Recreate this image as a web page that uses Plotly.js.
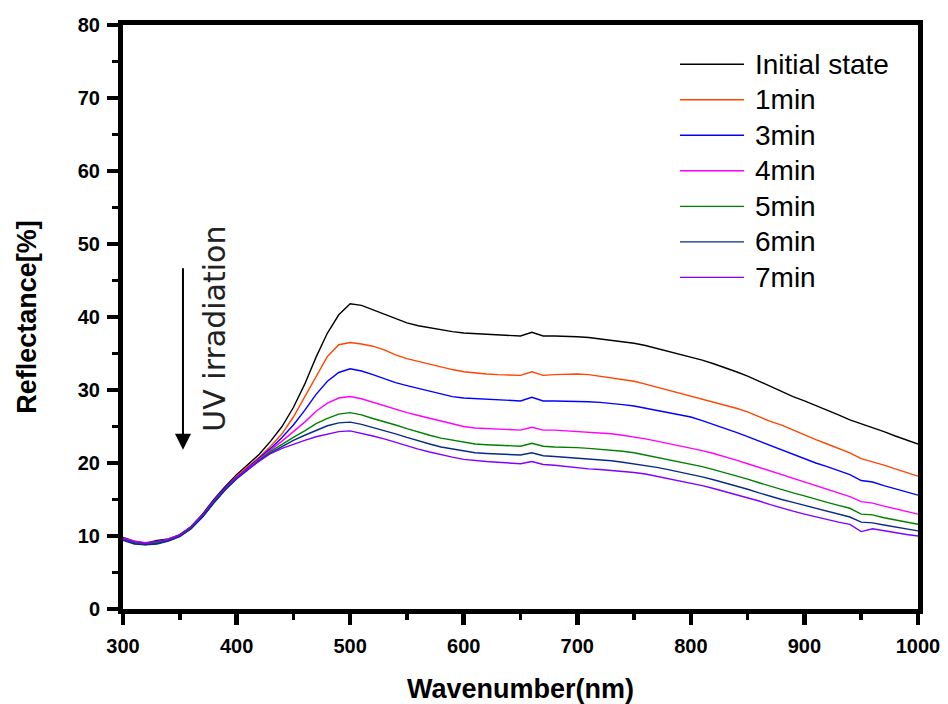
<!DOCTYPE html>
<html>
<head>
<meta charset="utf-8">
<script src="https://cdn.plot.ly/plotly-3.0.1.min.js"></script>
<style>html,body{margin:0;padding:0;background:#fff;}#chart{width:948px;height:704px;}</style>
</head>
<body>
<div id="chart"></div>
<script>
var wavelength = [300,310,320,330,340,350,360,370,380,390,400,410,420,430,440,450,460,470,480,490,500,510,520,530,540,550,560,570,580,590,600,610,620,630,640,650,660,670,680,690,700,710,720,730,740,750,760,770,780,790,800,810,820,830,840,850,860,870,880,890,900,910,920,930,940,950,960,970,980,990,1000];

var seriesNames = ["Initial state","1min","3min","4min","5min","6min","7min"];
var seriesColors = ["#000000","#ff4500","#0000ff","#ff00ff","#008000","#0a2a8a","#8000ff"];

var initialState = [9.8,9.3,9.0,9.4,9.6,10.2,11.3,13.0,15.0,16.8,18.4,19.8,21.2,23.0,25.0,27.6,30.8,34.5,37.8,40.3,41.8,41.6,41.0,40.4,39.8,39.2,38.8,38.5,38.2,38.0,37.8,37.7,37.6,37.5,37.4,37.4,37.9,37.4,37.4,37.4,37.3,37.2,37.0,36.9,36.7,36.4,36.1,35.7,35.3,35.0,34.6,34.1,33.6,33.1,32.5,31.9,31.2,30.4,29.8,29.1,28.5,27.9,27.2,26.6,25.9,25.4,24.9,24.3,23.7,23.2,22.6];
var min1 = [9.5,9.0,8.8,9.2,9.4,10.0,11.0,12.7,14.7,16.5,18.2,19.5,20.8,22.3,24.0,26.3,29.0,31.8,34.6,36.2,36.5,36.3,36.0,35.5,34.8,34.3,33.9,33.5,33.1,32.8,32.5,32.3,32.2,32.1,32.1,32.0,32.5,32.0,32.1,32.2,32.2,32.1,31.9,31.7,31.5,31.2,30.8,30.4,30.0,29.6,29.2,28.8,28.4,28.0,27.5,27.0,26.3,25.7,25.2,24.5,23.8,23.2,22.6,22.0,21.4,20.6,20.2,19.7,19.2,18.7,18.2];
var min3 = [9.6,9.1,8.9,9.0,9.4,10.0,11.1,12.6,14.6,16.4,18.0,19.3,20.6,22.0,23.5,25.2,27.2,29.4,31.2,32.4,32.9,32.6,32.1,31.5,31.0,30.6,30.2,29.8,29.4,29.1,28.9,28.8,28.7,28.6,28.6,28.5,29.0,28.5,28.5,28.5,28.5,28.4,28.3,28.2,28.0,27.8,27.5,27.2,26.9,26.6,26.3,25.8,25.3,24.8,24.2,23.6,23.0,22.3,21.7,21.1,20.5,20.0,19.5,18.9,18.4,17.6,17.4,16.9,16.5,16.0,15.6];
var min4 = [9.7,9.3,9.1,9.2,9.6,10.1,11.2,12.8,14.8,16.5,18.0,19.3,20.5,21.8,23.0,24.3,25.6,27.1,28.2,28.9,29.1,28.8,28.3,27.9,27.4,26.9,26.5,26.1,25.7,25.3,25.0,24.8,24.7,24.6,24.6,24.5,24.9,24.5,24.5,24.4,24.4,24.3,24.2,24.0,23.8,23.6,23.3,23.0,22.7,22.4,22.1,21.7,21.3,20.9,20.4,19.9,19.4,18.8,18.3,17.8,17.3,16.8,16.3,15.9,15.4,14.7,14.5,14.1,13.7,13.3,13.0];
var min5 = [9.5,9.0,8.9,9.1,9.5,10.0,11.1,12.7,14.7,16.4,17.9,19.2,20.4,21.6,22.6,23.5,24.4,25.4,26.1,26.7,26.9,26.6,26.1,25.7,25.2,24.7,24.2,23.8,23.4,23.1,22.8,22.6,22.5,22.4,22.3,22.3,22.7,22.3,22.2,22.2,22.1,22.0,21.9,21.8,21.6,21.4,21.1,20.8,20.5,20.2,19.9,19.5,19.1,18.7,18.3,17.8,17.3,16.8,16.3,15.9,15.5,15.0,14.6,14.2,13.8,13.0,12.9,12.5,12.2,11.9,11.6];
var min6 = [9.4,8.9,8.8,8.9,9.3,9.9,11.0,12.6,14.5,16.3,17.8,19.1,20.3,21.4,22.3,23.1,23.8,24.5,25.1,25.5,25.6,25.3,24.9,24.5,24.0,23.5,23.0,22.6,22.2,21.9,21.6,21.4,21.3,21.2,21.1,21.1,21.4,21.0,20.9,20.8,20.6,20.5,20.4,20.3,20.1,19.9,19.7,19.4,19.1,18.8,18.5,18.1,17.7,17.3,16.9,16.4,15.9,15.4,15.0,14.6,14.2,13.8,13.4,13.0,12.6,11.9,11.8,11.5,11.2,10.9,10.7];
var min7 = [9.6,9.2,9.0,9.2,9.5,10.1,11.3,12.9,14.9,16.6,18.0,19.2,20.3,21.3,22.0,22.6,23.1,23.6,24.0,24.3,24.4,24.1,23.7,23.3,22.8,22.3,21.9,21.5,21.1,20.8,20.5,20.3,20.2,20.1,20.0,19.9,20.2,19.8,19.7,19.5,19.3,19.2,19.1,19.0,18.9,18.7,18.5,18.2,17.9,17.6,17.3,16.9,16.5,16.1,15.7,15.2,14.8,14.3,13.8,13.4,13.0,12.6,12.3,11.9,11.6,10.6,11.0,10.7,10.4,10.2,10.0];

var xTickVals = [300,400,500,600,700,800,900,1000];
var yTickVals = [0,10,20,30,40,50,60,70,80];

var seriesValues = [initialState,min1,min3,min4,min5,min6,min7];

var traces = seriesValues.map(function(vals, i){
  return {
    x: wavelength, y: vals, type: 'scatter', mode: 'lines',
    name: seriesNames[i], showlegend: false,
    line: {color: seriesColors[i], width: 1.4}
  };
});

var shapes = [];
var annotations = [];
var legX0 = 0.7006, legX1 = 0.7811, legTextX = 0.7925, legY0 = 0.9327, legDy = 0.0608;
seriesNames.forEach(function(nm, i){
  var yy = legY0 - i*legDy;
  shapes.push({type:'line', xref:'paper', yref:'paper', x0:legX0, x1:legX1, y0:yy, y1:yy,
    line:{color:seriesColors[i], width:1.4}});
  annotations.push({xref:'paper', yref:'paper', x:legTextX, y:yy, xanchor:'left', yanchor:'middle',
    text:nm, showarrow:false, font:{family:'Liberation Sans, Arial, sans-serif', size:28, color:'#000'}});
});

annotations.push({x:352.8, y:21.8, ax:352.8, ay:46.9, axref:'x', ayref:'y', xref:'x', yref:'y',
  text:'', showarrow:true, arrowhead:2, arrowsize:1.6, arrowwidth:2, arrowcolor:'#000', standoff:0});
annotations.push({x:381, y:38.4, xref:'x', yref:'y', text:'UV irradiation', textangle:-90,
  showarrow:false, font:{family:'DejaVu Sans, sans-serif', size:30, color:'#222'}});

var tickFont = {family:'Liberation Sans, Arial, sans-serif', size:20, color:'#000', weight:'bold'};
var titleFont = {family:'Liberation Sans, Arial, sans-serif', size:27, color:'#000', weight:'bold'};

var layout = {
  width:948, height:704,
  margin:{l:123, r:30, t:25, b:95},
  paper_bgcolor:'#fff', plot_bgcolor:'#fff',
  showlegend:false,
  xaxis:{
    range:[300,1000], tickvals:xTickVals, ticktext:xTickVals.map(String),
    showgrid:false, zeroline:false, showline:true, mirror:true, linecolor:'#000', linewidth:5,
    ticks:'outside', ticklen:11, tickwidth:4.5, tickcolor:'#000', tickfont:tickFont, ticklabelstandoff:4,
    minor:{dtick:50, tick0:300, ticks:'outside', ticklen:6, tickwidth:3.5, tickcolor:'#000', showgrid:false},
    title:{text:'Wavenumber(nm)', font:titleFont, standoff:26}
  },
  yaxis:{
    range:[0,80], tickvals:yTickVals, ticktext:yTickVals.map(String),
    showgrid:false, zeroline:false, showline:true, mirror:true, linecolor:'#000', linewidth:5,
    ticks:'outside', ticklen:11, tickwidth:4.5, tickcolor:'#000', tickfont:tickFont, ticklabelstandoff:3,
    minor:{dtick:5, tick0:0, ticks:'outside', ticklen:6, tickwidth:3.5, tickcolor:'#000', showgrid:false},
    title:{text:'Reflectance[%]', font:titleFont, standoff:35}
  },
  shapes:shapes,
  annotations:annotations
};

Plotly.newPlot('chart', traces, layout, {displayModeBar:false, staticPlot:true});
</script>
</body>
</html>
